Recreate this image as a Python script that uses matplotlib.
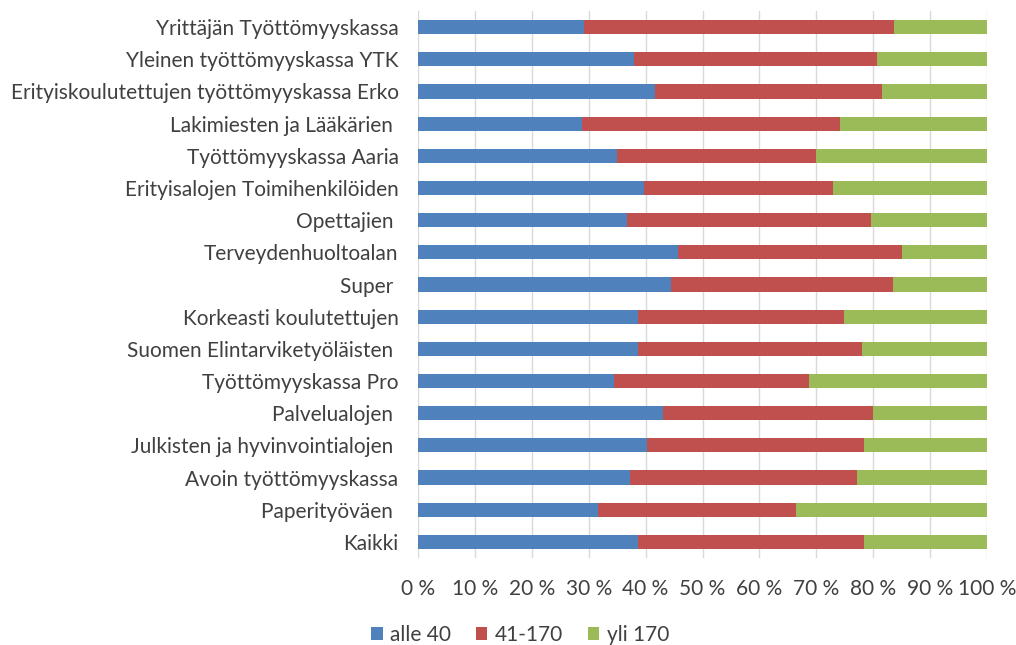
import matplotlib.pyplot as plt
import numpy as np

# kassat ylhäältä alas
kassat = ["Yrittäjän Työttömyyskassa", "Yleinen työttömyyskassa YTK",
          "Erityiskoulutettujen työttömyyskassa Erko", "Lakimiesten ja Lääkärien ",
          "Työttömyyskassa Aaria", "Erityisalojen Toimihenkilöiden", "Opettajien ",
          "Terveydenhuoltoalan", "Super ", "Korkeasti koulutettujen",
          "Suomen Elintarviketyöläisten ", "Työttömyyskassa Pro", "Palvelualojen ",
          "Julkisten ja hyvinvointialojen ", "Avoin työttömyyskassa", "Paperityöväen ",
          "Kaikki"]
alle40 = [29.1, 38.0, 41.7, 28.8, 35.0, 39.7, 36.7, 45.7, 44.5,
          38.6, 38.6, 34.4, 43.1, 40.3, 37.2, 31.6, 38.6]
kumul_170 = [83.7, 80.6, 81.6, 74.1, 69.9, 72.9, 79.7, 85.1, 83.4,
             74.9, 78.0, 68.8, 80.0, 78.3, 77.2, 66.5, 78.3]
v41_170 = [k - a for k, a in zip(kumul_170, alle40)]
yli170 = [100 - k for k in kumul_170]

sarjat = ["alle 40", "41-170", "yli 170"]
varit = ["#4F81BD", "#C0504D", "#9BBB59"]

plt.rcParams['font.family'] = ['Lato', 'DejaVu Sans']

fig = plt.figure(figsize=(10.16, 6.45), dpi=100)
ax = fig.add_axes([418/1016, 1 - 558/645, (987-418)/1016, (558-11)/645])

y = np.arange(len(kassat))
left = np.zeros(len(kassat))
for arvot, nimi, vari in zip([alle40, v41_170, yli170], sarjat, varit):
    ax.barh(y, arvot, left=left, height=0.44, color=vari, label=nimi, zorder=3)
    left += np.array(arvot)

ax.set_ylim(len(kassat) - 0.5, -0.5)
ax.set_xlim(0, 100)
ax.set_yticks(y)
ax.set_yticklabels(kassat, fontsize=15, color="#404040")
ax.set_xticks(np.arange(0, 101, 10))
ax.set_xticklabels([f"{v} %" for v in range(0, 101, 10)], fontsize=15, color="#404040")
ax.tick_params(length=0)
ax.tick_params(axis='y', pad=14)
ax.tick_params(axis='x', pad=15)
ax.grid(axis='x', color="#d9d9d9", linewidth=1, zorder=0)
for s in ax.spines.values():
    s.set_visible(False)

fig.legend(loc='center', bbox_to_anchor=(520/1016, 1 - 635/645), ncol=3, frameon=False,
           fontsize=15, handlelength=0.55, handleheight=0.55, columnspacing=1.2,
           handletextpad=0.35, labelcolor="#404040")

fig.savefig("out.png", dpi=100)
